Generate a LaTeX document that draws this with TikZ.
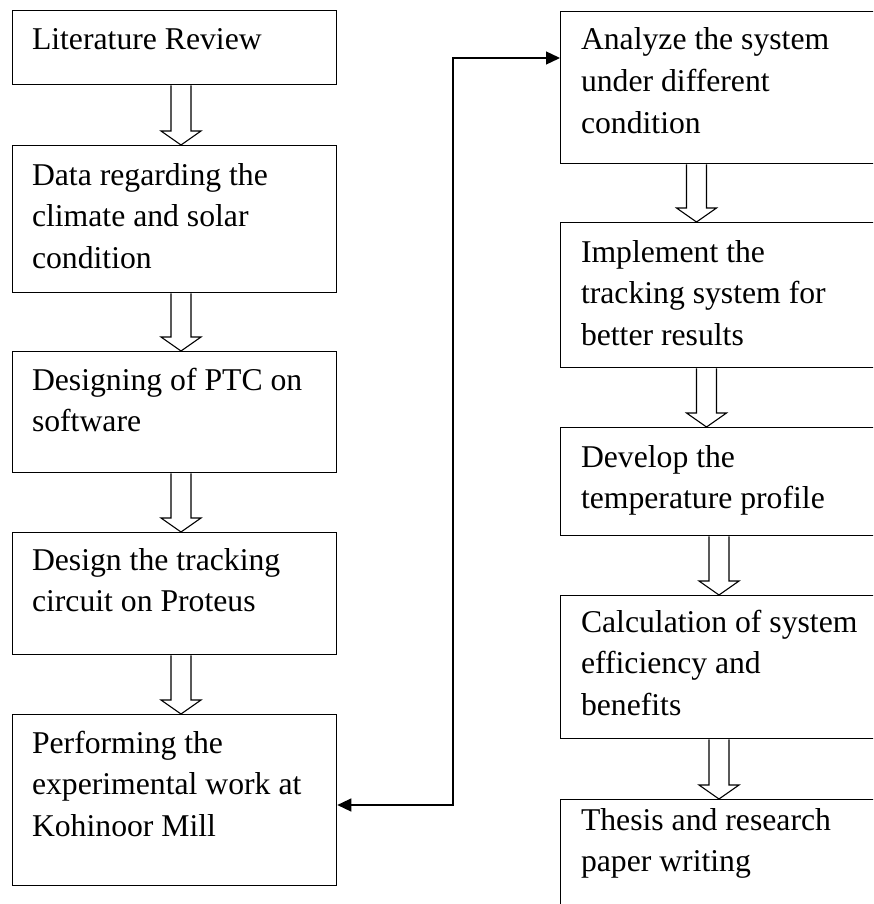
\documentclass[tikz,border=0pt]{standalone}
\usepackage{fontspec}
\setmainfont{Liberation Serif}
\usetikzlibrary{arrows.meta,calc}
\tikzset{
 box/.style={draw, line width=1.3pt, rectangle, anchor=north west, inner sep=0pt},
 txt/.style={anchor=north west, inner sep=0pt, outer sep=0pt, align=left, font=\fontsize{31.7}{41.7}\selectfont},
 hollow/.style={draw, line width=1.1pt, fill=white, line join=miter},
 link/.style={line width=1.3pt, {Triangle[length=14pt,width=13pt]}-{Triangle[length=14pt,width=13pt]}}
}
\newcommand{\firststrut}{\rule{0pt}{25pt}}
\newcommand{\hollowarrow}[3]{\draw[hollow] let \p1=(#1.south), \p2=(#2.north) in ({#3pt-10pt},\y1) -- ({#3pt-10pt},{\y2+14pt}) -- ({#3pt-20pt},{\y2+14pt}) -- ({#3pt},\y2) -- ({#3pt+20pt},{\y2+14pt}) -- ({#3pt+10pt},{\y2+14pt}) -- ({#3pt+10pt},\y1);}
\begin{document}
\begin{tikzpicture}[x=1pt,y=-1pt]
\clip (0,0) rectangle (873,904);
% left column
\node[box, minimum width=324pt, minimum height=74pt]  (b1) at (12,10)  {};
\node[box, minimum width=324pt, minimum height=147pt] (b2) at (12,145) {};
\node[box, minimum width=324pt, minimum height=121pt] (b3) at (12,351) {};
\node[box, minimum width=324pt, minimum height=122pt] (b4) at (12,532) {};
\node[box, minimum width=324pt, minimum height=171pt] (b5) at (12,714) {};
% right column
\node[box, minimum width=400pt, minimum height=152pt] (r1) at (560,11)  {};
\node[box, minimum width=400pt, minimum height=145pt] (r2) at (560,222) {};
\node[box, minimum width=400pt, minimum height=108pt] (r3) at (560,427) {};
\node[box, minimum width=400pt, minimum height=143pt] (r4) at (560,595) {};
\node[box, minimum width=400pt, minimum height=160pt] (r5) at (560,799) {};
% texts
\node[txt] (t1) at (32,25)  {\firststrut Literature Review};
\node[txt] (t2) at (32,160) {\firststrut Data regarding the\\climate and solar\\condition};
\node[txt] (t3) at (32,365) {\firststrut Designing of PTC on\\software};
\node[txt] (t4) at (32,545) {\firststrut Design the tracking\\circuit on Proteus};
\node[txt] (t5) at (32,728) {\firststrut Performing the\\experimental work at\\Kohinoor Mill};
\node[txt] (s1) at (581,25)  {\firststrut Analyze the system\\under different\\condition};
\node[txt] (s2) at (581,237) {\firststrut Implement the\\tracking system for\\better results};
\node[txt] (s3) at (581,442) {\firststrut Develop the\\temperature profile};
\node[txt] (s4) at (581,607) {\firststrut Calculation of system\\efficiency and\\benefits};
\node[txt] (s5) at (581,805) {\firststrut Thesis and research\\paper writing};
% hollow arrows
\hollowarrow{b1}{b2}{181}
\hollowarrow{b2}{b3}{181}
\hollowarrow{b3}{b4}{181}
\hollowarrow{b4}{b5}{181}
\hollowarrow{r1}{r2}{696.5}
\hollowarrow{r2}{r3}{706.5}
\hollowarrow{r3}{r4}{719}
\hollowarrow{r4}{r5}{719}
% connector
\coordinate (c1) at (453,805);
\coordinate (c2) at (453,58);
\draw[link] (b5.east |- c1) -- (c1) -- (c2) -- (r1.west |- c2);
\end{tikzpicture}
\end{document}
